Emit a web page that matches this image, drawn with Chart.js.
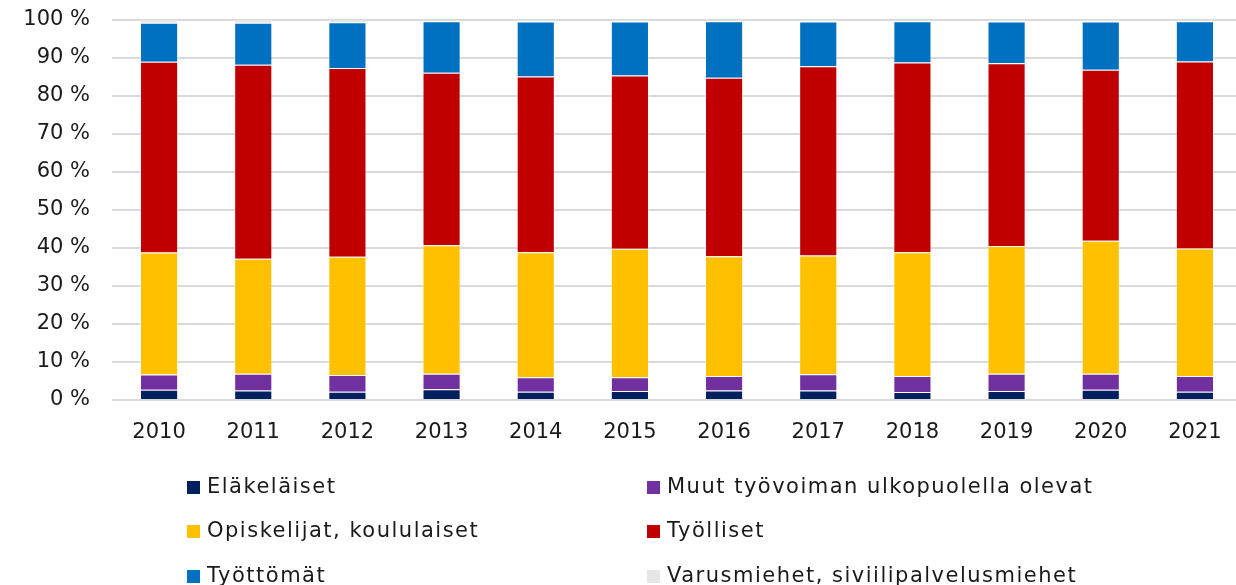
<!DOCTYPE html>
<html>
<head>
<meta charset="utf-8">
<script src="https://cdn.jsdelivr.net/npm/chart.js@4"></script>
<style>
  body { margin: 0; background: #fff; overflow: hidden; width: 1236px; height: 585px; }
  #wrap { position: relative; width: 1242px; height: 450px; }
  #chartCanvas { display: block; width: 1242px; height: 450px; }
  #legend { position: absolute; left: 0; top: 0; width: 1236px; height: 585px; pointer-events: none; }
  .item { position: absolute; font-family: "DejaVu Sans", sans-serif; font-size: 21px; letter-spacing: 1.5px; color: #1a1a1a; white-space: nowrap; line-height: 24px; }
  .box { display: inline-block; width: 13px; height: 13px; margin-right: 7px; vertical-align: -1px; }
</style>
</head>
<body>
<div id="wrap"><canvas id="chartCanvas" width="1242" height="450"></canvas></div>
<div id="legend"></div>
<script>
var years = ["2010", "2011", "2012", "2013", "2014", "2015", "2016", "2017", "2018", "2019", "2020", "2021"];

// shares in percent
var elakelaiset = [2.7, 2.5, 2.2, 2.8, 2.2, 2.4, 2.5, 2.5, 2.1, 2.4, 2.7, 2.2];
var muut = [4.0, 4.4, 4.4, 4.1, 3.8, 3.6, 3.8, 4.3, 4.2, 4.5, 4.2, 4.1];
var opiskelijat = [32.1, 30.3, 31.1, 33.8, 32.9, 33.8, 31.5, 31.2, 32.6, 33.6, 35.0, 33.6];
var tyolliset = [50.2, 51.0, 49.7, 45.4, 46.2, 45.6, 47.0, 49.8, 49.9, 48.1, 45.0, 49.2];
var tyottomat = [10.3, 11.1, 12.0, 13.6, 14.5, 14.2, 14.9, 11.8, 10.9, 11.0, 12.7, 10.6];
var varusmiehet = [0.7, 0.7, 0.6, 0.3, 0.4, 0.4, 0.3, 0.4, 0.3, 0.4, 0.4, 0.3];

var tickFont = { family: "DejaVu Sans", size: 21 };

function ds(label, data, color) {
  return {
    label: label,
    data: data,
    backgroundColor: color,
    borderColor: "rgba(255,255,255,0.35)",
    borderWidth: 1,
    categoryPercentage: 1.0,
    barPercentage: 0.405
  };
}

var canvas = document.getElementById("chartCanvas");
var chart = new Chart(canvas, {
  type: "bar",
  data: {
    labels: years,
    datasets: [
      ds("Eläkeläiset", elakelaiset, "#002060"),
      ds("Muut työvoiman ulkopuolella olevat", muut, "#7030a0"),
      ds("Opiskelijat, koululaiset", opiskelijat, "#ffc000"),
      ds("Työlliset", tyolliset, "#c00000"),
      ds("Työttömät", tyottomat, "#0070c0"),
      ds("Varusmiehet, siviilipalvelusmiehet", varusmiehet, "#e7e6e6")
    ]
  },
  options: {
    responsive: false,
    animation: false,
    devicePixelRatio: 1,
    layout: { padding: 0 },
    plugins: { legend: { display: false }, tooltip: { enabled: false } },
    scales: {
      x: {
        stacked: true,
        grid: { display: false },
        border: { display: false },
        ticks: { font: tickFont, color: "#1a1a1a", padding: 12, maxRotation: 0 },
        afterFit: function (s) { s.height = 50; }
      },
      y: {
        stacked: true,
        min: 0,
        max: 100,
        border: { display: false },
        grid: { color: "#d9d9d9", lineWidth: 2, drawTicks: false },
        ticks: {
          stepSize: 10,
          font: tickFont,
          color: "#1a1a1a",
          padding: 22,
          callback: function (v) { return v + " %"; }
        },
        afterFit: function (s) {
          s.width = 112;
          s.paddingTop = 20;
          s.paddingBottom = 0;
        }
      }
    }
  }
});

// legend in two columns, built from the chart's datasets
var legend = document.getElementById("legend");
var colX = [187, 647];
var rowY = [474, 518, 563];
chart.data.datasets.forEach(function (d, i) {
  var el = document.createElement("div");
  el.className = "item";
  el.style.left = colX[i % 2] + "px";
  el.style.top = rowY[Math.floor(i / 2)] + "px";
  el.innerHTML = '<span class="box" style="background:' + d.backgroundColor + '"></span>';
  el.appendChild(document.createTextNode(d.label));
  legend.appendChild(el);
});
</script>
</body>
</html>
